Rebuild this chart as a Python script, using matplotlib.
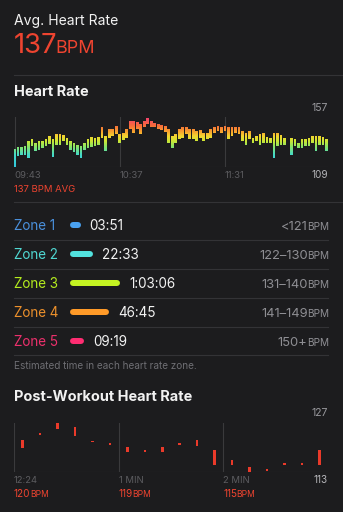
import numpy as np
import matplotlib.pyplot as plt
from matplotlib.colors import LinearSegmentedColormap
from matplotlib.path import Path
from matplotlib.patches import PathPatch

nan = np.nan

# ---- data ----
avg_hr = 137

hr_tick_labels = ['09:43', '10:37', '11:31']
hr_tick_min = [0, 54, 108]
hr_sample_min = 1.8
hr_low = [109, 120, 121, 121, 118, 129, 124.5, 125.5, 127, 129,
          131, 119, 130, 130.5, 134, 130.5, 125.5, 123, 120.5, 118,
          125.5, 127, 128, 129, 130.5, 137, 124, 137, 139, 141,
          132, 134.5, 137, 145.5, 142, 145.5, 140.5, 147, 150.5, 147,
          147, 145.5, 144.5, 143, 132, 127, 132, 135.5, 137, 140.5,
          135.5, 135.5, 134, 137, 134, 135.5, 137, 142, 144, 142,
          144, 135.5, 139, 142, 140.5, 134, 130.5, 135.5, 132, 134,
          130.5, 132, 132, 132, 117.5, 129, 130.5, 130.5, nan, 120.5,
          129, 127, 127, 129, 129, 132, 124, 130.5, 130.5, 124.5]
hr_high = [126, 128, 128, 129.5, 134, 135.5, 132, 134, 134, 135.5,
           139, 135.5, 141, 140.5, 139.5, 137, 134, 132, 130.5, 129,
           132, 135.5, 138, 137, 138, 147, 139, 145.5, 145.5, 148.5,
           140.5, 142, 145.5, 153.5, 153.5, 152, 150.5, 153.5, 156, 153.5,
           151, 150.5, 149.5, 148.5, 145.5, 139, 140.5, 145.5, 147, 147,
           145.5, 145.5, 144, 144.5, 142, 142, 145.5, 147.5, 148.5, 147,
           148.5, 147, 147, 147.5, 147, 144, 142, 144, 137, 139,
           140.5, 142, 138, 137, 142, 142, 140, 137, nan, 137,
           135.5, 132, 135.5, 135.5, 137, 139, 139, 139, 138, 135.5]
hr_min, hr_max = 109, 157

zone_names = ['Zone 1', 'Zone 2', 'Zone 3', 'Zone 4', 'Zone 5']
zone_times = ['03:51', '22:33', '1:03:06', '46:45', '09:19']
zone_ranges = ['<121', '122\u2013130', '131\u2013140', '141\u2013149', '150+']
zone_text_colors = ['#4a90dc', '#50d8d2', '#b4ec1e', '#ec902c', '#ec306c']
zone_pill_colors = ['#4aa2f2', '#52e2de', '#c4f322', '#ff9a28', '#ff2d72']

post_sec = [5, 15, 25, 35, 45, 55, 65, 75, 85, 95, 105, 115, 125, 135, 145, 155, 165, 175]
post_low = [119.8, 123.5, 125.1, 123.3, 121.5, 120.7, 118.8, 118.8, 118.8,
            120.7, 120.5, 115.1, 115.1, 113.2, 113.4, 115.1, 115.1, 115.1]
post_high = [122.1, 124.0, 126.8, 125.9, 121.9, 121.2, 120.2, 119.3, 120.2,
             121.2, 122.1, 119.3, 116.5, 114.6, 113.8, 115.5, 115.5, 119.3]
post_tick_labels = ['12:24', '1 MIN', '2 MIN']
post_tick_sec = [0, 60, 120]
post_marks = ['120', '119', '115']
post_min, post_max = 113, 127

# ---- style ----
BG = '#1c1c1e'
SEP = '#333336'
GRID = '#3a3a3c'
RED = '#ee4430'
FONT = ['Inter', 'DejaVu Sans']
W, H = 343, 512

fig = plt.figure(figsize=(W / 100, H / 100), dpi=100, facecolor=BG)
bg = fig.add_axes([0, 0, 1, 1])
bg.set_xlim(0, W)
bg.set_ylim(H, 0)
bg.axis('off')
renderer = fig.canvas.get_renderer()


def txt(x, y, s, size, color, weight='normal', ha='left'):
    return bg.text(x, y, s, fontsize=size * 0.72, color=color, fontweight=weight,
                   ha=ha, va='baseline', family=FONT)


def run(x, y, parts, ha='left', weight='normal'):
    # several text pieces on one baseline, e.g. a number followed by small "BPM"
    texts, cx = [], x
    for s, size, color in parts:
        t = txt(cx, y, s, size, color, weight)
        cx += t.get_window_extent(renderer).width - 0.07 * size
        texts.append(t)
    if ha == 'right':
        shift = cx - x
        for t in texts:
            px, py = t.get_position()
            t.set_position((px - shift, py))
    return cx


def px_axes(x0, y0, x1, y1):
    ax = fig.add_axes([x0 / W, 1 - y1 / H, (x1 - x0) / W, (y1 - y0) / H])
    ax.set_facecolor('none')
    ax.axis('off')
    return ax


# header
txt(14, 25, 'Avg. Heart Rate', 14, '#f2f2f2')
run(14, 53, [(str(avg_hr), 27.5, RED), ('BPM', 18, RED)])
bg.plot([14, W], [75, 75], color=SEP, lw=0.8)

# ---- heart rate chart ----
txt(14, 96, 'Heart Rate', 14.5, '#f2f2f2', weight='bold')
txt(328, 111, str(hr_max), 10.5, '#9a9a9e', ha='right')

ax = px_axes(14, 117, 328, 167)
x_hr = np.arange(len(hr_low)) * hr_sample_min
xlim = (-0.3, 161)
ax.set_xlim(*xlim)
ax.set_ylim(hr_min, hr_max)
for t in hr_tick_min:
    ax.axvline(t, color=GRID, lw=0.8, zorder=0)
ax.axhline(hr_min, color=GRID, lw=0.8, zorder=0)

lo = np.array(hr_low)
hi = np.array(hr_high)
ok = ~np.isnan(lo)
bars = ax.bar(x_hr[ok], hi[ok] - lo[ok], bottom=lo[ok], width=1.35, color='none')
clip = Path.make_compound_path(*[b.get_path().transformed(b.get_patch_transform()) for b in bars])
clip_patch = PathPatch(clip, transform=ax.transData, facecolor='none', edgecolor='none')
ax.add_patch(clip_patch)

# the colour depends only on the bpm value, so one vertical gradient is clipped to the bars
cmap = LinearSegmentedColormap.from_list('hr', [
    (0.00, '#30c6dc'), (0.25, '#46dac8'), (0.40, '#86e46a'), (0.52, '#cce634'),
    (0.62, '#f4d430'), (0.71, '#f8a22e'), (0.83, '#f66a3a'), (1.00, '#f43e74')])
grad = np.linspace(0, 1, 256).reshape(-1, 1)
im = ax.imshow(grad, extent=[xlim[0], xlim[1], hr_min, hr_max], origin='lower',
               aspect='auto', cmap=cmap, interpolation='bilinear')
im.set_clip_path(clip_patch)

for t, lab in zip(hr_tick_min, hr_tick_labels):
    txt(14 + t * (314 / 161.3), 178, lab, 9.5, '#5c5c60')
txt(328, 178, str(hr_min), 10, '#b4b4b8', ha='right')
txt(14, 192, f'{avg_hr} BPM AVG', 9.5, RED)
bg.plot([14, W], [202, 202], color=SEP, lw=0.8)

# ---- zones ----
def to_min(s):
    v = 0
    for p in s.split(':'):
        v = v * 60 + int(p)
    return v / 60

row_y = [225, 254, 283, 312, 340.5]
pill_h = 6
for i, (name, tm, rng) in enumerate(zip(zone_names, zone_times, zone_ranges)):
    y = row_y[i]
    txt(14, y + 5, name, 13.5, zone_text_colors[i])
    length = 8 + 0.67 * to_min(tm)
    bg.plot([70 + pill_h / 2, 70 + length - pill_h / 2], [y, y], color=zone_pill_colors[i],
            lw=pill_h * 0.72, solid_capstyle='round')
    txt(70 + length + 9, y + 5, tm, 13.5, '#f2f2f2')
    run(328, y + 5, [(rng, 13, '#8e8e93'), ('BPM', 10, '#8e8e93')], ha='right')
    bg.plot([14, 328], [y + 14.5, y + 14.5], color=SEP, lw=0.8)

txt(14, 369, 'Estimated time in each heart rate zone.', 10, '#6e6e73')

# ---- post-workout chart ----
txt(14, 401, 'Post-Workout Heart Rate', 14.5, '#f2f2f2', weight='bold')
txt(328, 416, str(post_max), 10.5, '#9a9a9e', ha='right')

ax2 = px_axes(14, 422.7, 328, 472.3)
ax2.set_xlim(0, 180)
ax2.set_ylim(post_min, post_max)
for t in post_tick_sec:
    ax2.axvline(t, color=GRID, lw=0.8, zorder=0)
ax2.axhline(post_min, color=GRID, lw=0.8, zorder=0)
lo2 = np.array(post_low)
hi2 = np.maximum(np.array(post_high), lo2 + 0.45)
ax2.bar(post_sec, hi2 - lo2, bottom=lo2, width=1.5, color='#ea3a2a', linewidth=0)

for t, lab, mk in zip(post_tick_sec, post_tick_labels, post_marks):
    xp = 14 + t * (314 / 180)
    txt(xp, 483, lab, 9.5, '#5c5c60')
    run(xp, 497, [(mk, 10, RED), ('BPM', 8.5, RED)])
txt(328, 483, str(post_min), 10, '#b4b4b8', ha='right')

fig.savefig('out.png', dpi=100, facecolor=BG)
